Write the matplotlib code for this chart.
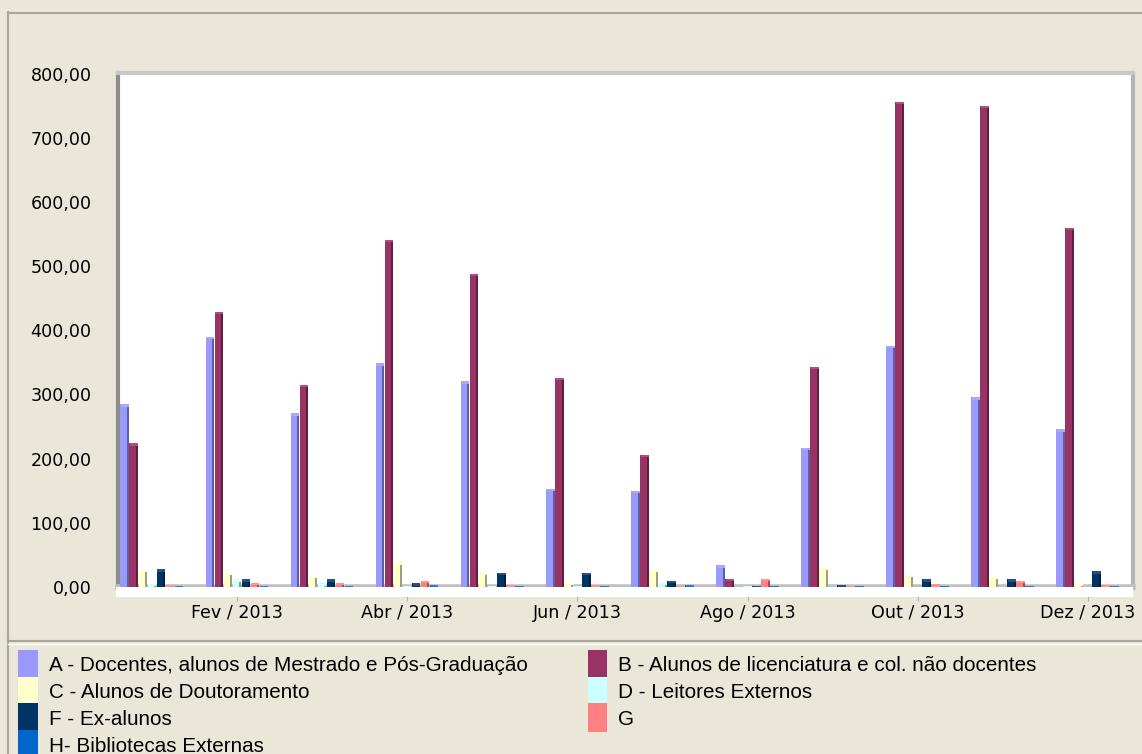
import matplotlib
matplotlib.use("Agg")
import matplotlib.pyplot as plt
import matplotlib.patches as mpatches
import numpy as np
from matplotlib.colors import to_rgb

months = ["Jan / 2013", "Fev / 2013", "Mar / 2013", "Abr / 2013", "Mai / 2013", "Jun / 2013",
          "Jul / 2013", "Ago / 2013", "Set / 2013", "Out / 2013", "Nov / 2013", "Dez / 2013"]
series_names = ["A - Docentes, alunos de Mestrado e Pós-Graduação",
                "B - Alunos de licenciatura e col. não docentes",
                "C - Alunos de Doutoramento",
                "D - Leitores Externos",
                "F - Ex-alunos",
                "G",
                "H- Bibliotecas Externas"]
colors = ["#9999FF", "#993366", "#FFFFCC", "#CCFFFF", "#003366", "#FF8080", "#0066CC"]

A = [285, 390, 271, 349, 321, 153, 150, 34, 217, 376, 296, 246]
B = [224, 429, 315, 541, 488, 326, 206, 13, 343, 756, 750, 560]
C = [27, 22, 18, 39, 22, 7, 27, 0, 30, 19, 16, 6]
D = [5, 12, 6, 1, 2, 1, 7, 1, 0, 0, 0, 0]
F = [28, 12, 12, 6, 22, 22, 10, 1, 3, 12, 12, 25]
G = [3, 7, 7, 10, 3, 3, 1, 13, 1, 4, 10, 3]
H = [1, 1, 1, 3, 1, 1, 3, 1, 1, 1, 1, 1]
series = [A, B, C, D, F, G, H]

yticks = [0, 100, 200, 300, 400, 500, 600, 700, 800]
ytick_labels = ["0,00", "100,00", "200,00", "300,00", "400,00", "500,00", "600,00", "700,00", "800,00"]

W, Hh = 1142, 754
bg = "#EBE7D8"
fig = plt.figure(figsize=(W / 100, Hh / 100), dpi=100, facecolor=bg)

def fx(px):
    return px / W

def fy(py):
    return 1 - py / Hh

# outer border lines
fig.add_artist(plt.Line2D([fx(8), fx(8)], [fy(12), fy(754)], color="#A8A698", lw=1.5))
fig.add_artist(plt.Line2D([fx(8), 1], [fy(12.5), fy(12.5)], color="#A8A698", lw=1.5))
fig.add_artist(plt.Line2D([fx(8), 1], [fy(641), fy(641)], color="#A8A698", lw=1.5))
fig.add_artist(plt.Line2D([fx(8), 1], [fy(644), fy(644)], color="#FFFFFF", lw=1.0))

# white strip under floor
fig.add_artist(mpatches.Rectangle((fx(116), fy(597)), fx(1133 - 116), (597 - 587) / Hh,
                                  facecolor="white", edgecolor="none"))

ax = fig.add_axes([fx(118), fy(587), fx(1133 - 118), (587 - 73) / Hh])
ax.set_facecolor("white")

x = np.arange(len(months))
bw = 0.106
cap = 4.0
for i, (vals, c) in enumerate(zip(series, colors)):
    pos = x - 0.371 + bw * i
    rgb = np.array(to_rgb(c))
    dark = rgb * 0.62
    light = np.clip(rgb * 0.85 + 0.15, 0, 1)
    v = np.array(vals, dtype=float)
    ax.bar(pos, v, width=bw * 0.74, align="edge", color=c, edgecolor="none", zorder=3)
    ax.bar(pos + bw * 0.74, v, width=bw * 0.22, align="edge", color=dark, edgecolor="none", zorder=3)
    # top cap (3D look), drawn inside the bar's height
    capv = np.minimum(v, cap)
    ax.bar(pos + bw * 0.08, capv, bottom=v - capv, width=bw * 0.88, align="edge",
           color=light, edgecolor="none", zorder=4)

ax.set_xlim(-0.40, 11.53)
ax.set_ylim(0, 801)
ax.set_yticks(yticks)
ax.set_yticklabels(ytick_labels, fontsize=12.6, family="DejaVu Sans")
ax.tick_params(axis="y", length=0, pad=19)
ax.set_xticks(x[1::2])
ax.set_xticklabels(months[1::2], fontsize=12.6, family="DejaVu Sans")
ax.tick_params(axis="x", length=10, color="#B0B0B0", pad=2, direction="out")

ax.spines["left"].set_color("#8C8C8C")
ax.spines["left"].set_linewidth(3)
ax.spines["top"].set_color("#C8C8C8")
ax.spines["top"].set_linewidth(3)
ax.spines["right"].set_color("#B4B4B4")
ax.spines["right"].set_linewidth(3)
ax.spines["bottom"].set_color("#C0C0C0")
ax.spines["bottom"].set_linewidth(4)

# legend (row-major order)
handles = [mpatches.Patch(facecolor=c, edgecolor="none") for c in colors]
order = [0, 2, 4, 6, 1, 3, 5]
fs = 14.9
leg = fig.legend([handles[i] for i in order], [series_names[i] for i in order],
                 ncol=2, loc="upper left", bbox_to_anchor=(fx(18), fy(653)),
                 frameon=False, prop={"family": "Liberation Sans", "size": fs},
                 handlelength=0.95, handleheight=1.28, handletextpad=0.53,
                 labelspacing=0.22, columnspacing=2.9, borderpad=0, borderaxespad=0)
for h in leg.legend_handles:
    h.set_height(h.get_height() * 1.3)
    h.set_y(h.get_y() - h.get_height() * 0.12)

fig.savefig("out.png", dpi=100, facecolor=bg)
